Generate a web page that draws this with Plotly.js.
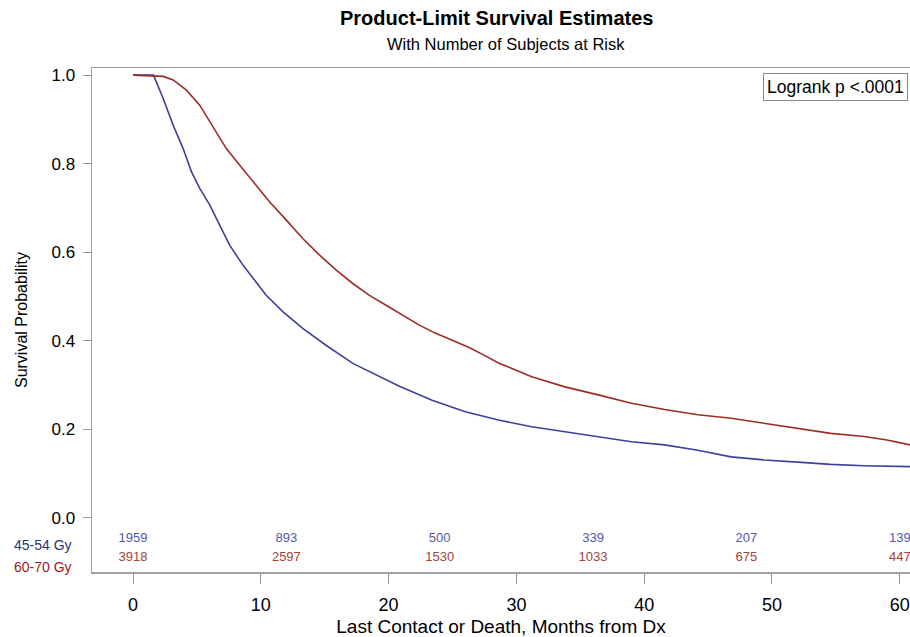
<!DOCTYPE html>
<html>
<head>
<meta charset="utf-8">
<script src="https://cdn.plot.ly/plotly-3.0.1.min.js"></script>
<style>html,body{margin:0;padding:0;background:#fff;}#chart{width:910px;height:637px;}</style>
</head>
<body>
<div id="chart"></div>
<script>
// Survival curve readings (months, survival probability)
const monthsLow = [0, 1.6, 2.36, 3.14, 3.92, 4.57, 5.22, 6.0, 6.78, 7.56, 8.6, 9.64, 10.42, 11.72, 13.28, 15.1, 17.2, 20.8, 23.4, 26.0, 28.6, 31.2, 33.8, 36.4, 39.0, 41.6, 44.2, 46.8, 49.4, 52.0, 54.6, 57.2, 60.8];
const survLow   = [1.0, 1.0, 0.947, 0.887, 0.834, 0.782, 0.744, 0.707, 0.661, 0.616, 0.571, 0.533, 0.503, 0.466, 0.428, 0.390, 0.349, 0.298, 0.266, 0.240, 0.221, 0.206, 0.195, 0.184, 0.172, 0.165, 0.153, 0.138, 0.131, 0.126, 0.121, 0.118, 0.116];

const monthsHigh = [0, 2.36, 3.14, 4.18, 5.22, 6.26, 7.3, 8.34, 9.38, 10.68, 11.98, 13.28, 14.58, 15.88, 17.17, 18.47, 19.77, 21.07, 22.37, 23.6, 24.97, 26.3, 27.57, 28.6, 31.2, 33.8, 36.4, 39.0, 41.6, 44.2, 46.8, 49.4, 52.0, 54.6, 57.2, 59.0, 60.8];
const survHigh   = [1.0, 0.997, 0.989, 0.966, 0.932, 0.883, 0.834, 0.797, 0.759, 0.714, 0.673, 0.631, 0.594, 0.560, 0.530, 0.503, 0.481, 0.458, 0.436, 0.418, 0.402, 0.385, 0.366, 0.350, 0.319, 0.296, 0.278, 0.259, 0.245, 0.233, 0.225, 0.214, 0.202, 0.191, 0.184, 0.176, 0.165];

// Number at risk table
const riskTimes = [0, 12, 24, 36, 48, 60];
const riskLow   = [1959, 893, 500, 339, 207, 139];
const riskHigh  = [3918, 2597, 1530, 1033, 675, 447];
const groupNames = ['45-54 Gy', '60-70 Gy'];

const xTicks = [0, 10, 20, 30, 40, 50, 60];
const yTicks = [0.0, 0.2, 0.4, 0.6, 0.8, 1.0];
const yTickText = ['0.0', '0.2', '0.4', '0.6', '0.8', '1.0'];

const BLUE = '#3d419c';
const RED = '#9c2c27';
const BLUE_TXT = '#5459a6';
const RED_TXT = '#a3413a';
const ROW_Y_LOW = -0.047;
const ROW_Y_HIGH = -0.090;
const FONT = 'Liberation Sans, Arial, sans-serif';
const NARROW = 'Liberation Sans Narrow, Arial Narrow, Liberation Sans, sans-serif';

const traces = [
  {x: monthsLow, y: survLow, mode: 'lines', line: {color: BLUE, width: 1.6}, name: groupNames[0], hoverinfo: 'skip'},
  {x: monthsHigh, y: survHigh, mode: 'lines', line: {color: RED, width: 1.6}, name: groupNames[1], hoverinfo: 'skip'},
  {x: riskTimes, y: riskTimes.map(() => ROW_Y_LOW), mode: 'text', text: riskLow.map(String), cliponaxis: false,
   textfont: {family: NARROW, size: 13, color: BLUE_TXT}, textposition: 'middle center', hoverinfo: 'skip'},
  {x: riskTimes, y: riskTimes.map(() => ROW_Y_HIGH), mode: 'text', text: riskHigh.map(String), cliponaxis: false,
   textfont: {family: NARROW, size: 13, color: RED_TXT}, textposition: 'middle center', hoverinfo: 'skip'}
];

const layout = {
  width: 910, height: 637,
  margin: {l: 92, r: 0, t: 68, b: 65, pad: 0},
  paper_bgcolor: '#fff', plot_bgcolor: '#fff',
  showlegend: false,
  font: {family: FONT, color: '#000'},
  xaxis: {
    range: [-3.21, 60.8], tickvals: xTicks, ticktext: xTicks.map(String),
    ticks: 'outside', ticklen: 10, tickcolor: '#999', tickwidth: 1,
    showline: true, linecolor: '#a0a0a0', linewidth: 1.5, mirror: true,
    showgrid: false, zeroline: false,
    tickfont: {family: NARROW, size: 18, color: '#000'},
    ticklabelstandoff: 6,
    title: {text: 'Last Contact or Death, Months from Dx', font: {family: NARROW, size: 19, color: '#000'}, standoff: 8}
  },
  yaxis: {
    range: [-0.122, 1.016], tickvals: yTicks, ticktext: yTickText,
    ticks: 'outside', ticklen: 8, tickcolor: '#999', tickwidth: 1,
    showline: true, linecolor: '#a0a0a0', linewidth: 1.5,
    showgrid: false, zeroline: false,
    tickfont: {family: FONT, size: 17, color: '#000'},
    ticklabelstandoff: 4,
    title: {text: 'Survival Probability', font: {family: NARROW, size: 16, color: '#000'}, standoff: 20}
  },
  annotations: [
    {text: '<b>Product-Limit Survival Estimates</b>', xref: 'paper', yref: 'paper', x: 0.494, y: 1.1, xanchor: 'center', yanchor: 'middle',
     showarrow: false, font: {family: FONT, size: 20, color: '#000'}},
    {text: 'With Number of Subjects at Risk', xref: 'paper', yref: 'paper', x: 0.506, y: 1.048, xanchor: 'center', yanchor: 'middle',
     showarrow: false, font: {family: FONT, size: 16.5, color: '#000'}},
    {text: 'Logrank p <.0001', xref: 'paper', yref: 'y', x: 0.997, y: 0.973, xanchor: 'right', yanchor: 'middle',
     showarrow: false, font: {family: FONT, size: 17.5, color: '#000'}, bordercolor: '#8a8a8a', borderwidth: 1, borderpad: 3, bgcolor: '#fff'},
    {text: groupNames[0], xref: 'paper', yref: 'y', x: -0.098, y: ROW_Y_LOW - 0.015, xanchor: 'left', yanchor: 'middle',
     showarrow: false, font: {family: NARROW, size: 14, color: '#28336e'}},
    {text: groupNames[1], xref: 'paper', yref: 'y', x: -0.098, y: ROW_Y_HIGH - 0.02, xanchor: 'left', yanchor: 'middle',
     showarrow: false, font: {family: NARROW, size: 14, color: '#a01818'}}
  ]
};

Plotly.newPlot('chart', traces, layout, {displayModeBar: false, staticPlot: true});
</script>
</body>
</html>
